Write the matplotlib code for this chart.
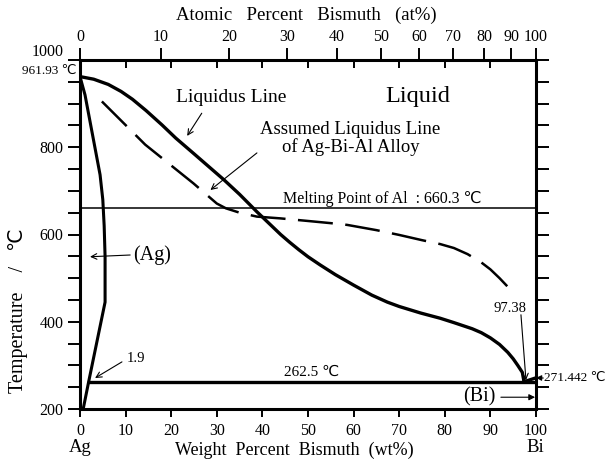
import numpy as np
import matplotlib
matplotlib.use("Agg")
import matplotlib.pyplot as plt

plt.rcParams['font.family'] = ['Liberation Serif', 'DejaVu Sans']

M_AG = 107.868
M_BI = 208.980

# liquidus line (wt% Bi, deg C)
liq_wt = [0, 3.0, 6.2, 9.0, 11.5, 14.5, 18.0, 21.0, 25.0, 31.5, 35.0, 38.8, 42.0, 44.0, 46.0, 48.0,
          50.0, 52.7, 56.0, 60.0, 64.0, 67.4, 70.0, 74.7, 79.0, 82.0, 86.0, 88.0, 90.0, 92.0, 93.8,
          95.0, 96.0, 97.0, 97.38]
liq_T = [961.93, 956, 944, 928, 910, 884, 851, 821, 785, 726, 692, 652, 620, 600, 582, 565,
         549, 530, 508, 484, 461, 445, 435, 420, 408, 398, 384, 375, 363, 348, 330,
         315, 300, 284, 262.5]

# assumed liquidus of the Ag-Bi-Al alloy
dash_wt = [4.8, 14.3, 24.9, 30.0, 32.0, 35.0, 38.8, 43.9, 50.0, 55.0, 58.6, 65.0, 70.0, 75.0,
           79.0, 82.0, 85.0, 88.0, 90.0, 92.0, 94.0, 95.2]
dash_T = [905, 806, 717, 671, 660, 650, 641, 637, 631, 626, 622, 610, 599, 587,
          578, 569, 555, 536, 520, 500, 478, 465]

# (Ag) solid solution boundary
sol_wt = [0, 1.1, 2.2, 3.3, 4.4, 5.0, 5.3, 5.5, 5.5, 1.9, 0.7]
sol_T = [961.93, 920, 859, 798, 737, 680, 620, 549, 445, 262.5, 200]

# (Bi) side
bi_wt = [97.38, 100]
bi_T = [262.5, 271.442]

eut_T = 262.5
eut_wt = [1.9, 100]
al_T = 660.3

wt_ticks = list(range(0, 101, 10))
at_ticks = list(range(0, 101, 10))
T_labels = [200, 400, 600, 800, 1000]


def wt2at(w):
    w = np.clip(np.asarray(w, dtype=float), 0, 100)
    a = w / M_BI
    b = (100 - w) / M_AG
    return 100 * a / np.where(a + b == 0, 1, a + b)


def at2wt(x):
    x = np.clip(np.asarray(x, dtype=float), 0, 100)
    a = x * M_BI
    b = (100 - x) * M_AG
    return 100 * a / np.where(a + b == 0, 1, a + b)


fig = plt.figure(figsize=(6.07, 4.59), dpi=100)
ax = fig.add_axes([80 / 607, 50 / 459, 456 / 607, 349 / 459])

ax.plot(liq_wt, liq_T, color='black', lw=2.4, solid_joinstyle='round')
ax.plot(dash_wt, dash_T, color='black', lw=1.8, dashes=(14, 5))
ax.plot(sol_wt, sol_T, color='black', lw=2.2, solid_joinstyle='miter')
ax.plot(bi_wt, bi_T, color='black', lw=2.4)
ax.plot(eut_wt, [eut_T, eut_T], color='black', lw=2.4)
ax.plot([0, 100], [al_T, al_T], color='black', lw=1.1)

ax.set_xlim(0, 100)
ax.set_ylim(200, 1000)
for s in ax.spines.values():
    s.set_linewidth(2.2)

ax.set_xticks(wt_ticks)
ax.set_yticks(T_labels)
ax.set_yticks(range(200, 1001, 50), minor=True)
ax.tick_params(axis='x', direction='out', length=6, width=1.4, labelsize=11.5, pad=4, top=False)
ax.tick_params(axis='y', which='both', direction='out', length=9, width=1.4, labelsize=11.5, pad=3,
               right=True)
ax.tick_params(axis='y', which='minor', labelleft=False)
# 1000 sits just above its tick so the melting point label fits beneath it
ax.get_yticklabels()[-1].set_va('bottom')

# inward weight-percent ticks on the top edge
top_in = ax.secondary_xaxis('top')
top_in.set_xticks(wt_ticks)
top_in.tick_params(direction='in', length=6, width=1.4, labeltop=False)
top_in.spines['top'].set_visible(False)

# atomic percent scale on top
top_at = ax.secondary_xaxis('top', functions=(wt2at, at2wt))
top_at.set_xticks(at_ticks)
top_at.tick_params(direction='out', length=9, width=1.4, labelsize=11.5, pad=2)
top_at.spines['top'].set_visible(False)

# axis titles
fig.text(306 / 607, 1 - 15 / 459, 'Atomic   Percent   Bismuth   (at%)', ha='center', va='center', fontsize=13.5)
fig.text(294 / 607, 1 - 450 / 459, 'Weight  Percent  Bismuth  (wt%)', ha='center', va='center', fontsize=13)
fig.text(18 / 607, 1 - 311 / 459, 'Temperature    /   \u2103', ha='center', va='center', rotation=90, fontsize=14.5)
fig.text(80 / 607, 1 - 448 / 459, 'Ag', ha='center', va='center', fontsize=13.5)
fig.text(535 / 607, 1 - 448 / 459, 'Bi', ha='center', va='center', fontsize=13.5)

# annotations
arrow = dict(arrowstyle='->', color='black', lw=0.8, shrinkA=0, shrinkB=0)
ax.text(-0.8, 975, '961.93 \u2103', ha='right', va='center', fontsize=9.5, clip_on=False)
ax.text(74, 917, 'Liquid', ha='center', va='center', fontsize=17.5)

ax.text(33.2, 915, 'Liquidus Line', ha='center', va='center', fontsize=14)
ax.annotate('', xy=(23.5, 826), xytext=(26.7, 878), arrowprops=arrow)

ax.text(59.3, 821, 'Assumed Liquidus Line\nof Ag-Bi-Al Alloy', ha='center', va='center',
        fontsize=13.5, linespacing=1.0)
ax.annotate('', xy=(28.6, 702), xytext=(38.8, 787), arrowprops=arrow)

ax.text(44.5, 681, 'Melting Point of Al  : 660.3 \u2103', ha='left', va='center', fontsize=11.5)

ax.text(11.6, 553, '(Ag)', ha='left', va='center', fontsize=14.5)
ax.annotate('', xy=(2.2, 549), xytext=(11.0, 553), arrowprops=arrow)

ax.text(10.3, 316, '1.9', ha='left', va='center', fontsize=10.5)
ax.annotate('', xy=(3.3, 271), xytext=(9.2, 308), arrowprops=arrow)

ax.text(50.8, 283, '262.5 \u2103', ha='center', va='center', fontsize=11)

ax.text(94.3, 431, '97.38', ha='center', va='center', fontsize=10.5)
ax.annotate('', xy=(97.8, 266), xytext=(96.7, 416), arrowprops=arrow)

ax.text(101.75, 271, '271.442 \u2103', ha='left', va='center', fontsize=9.5, clip_on=False)
ax.annotate('', xy=(100, 271.442), xytext=(101.6, 271), annotation_clip=False,
            arrowprops=dict(arrowstyle='-|>', color='black', lw=0.8, shrinkA=0, shrinkB=0,
                            mutation_scale=8))

ax.text(91.2, 227, '(Bi)', ha='right', va='center', fontsize=14.5)
ax.annotate('', xy=(99.8, 227), xytext=(92.3, 227),
            arrowprops=dict(arrowstyle='-|>', color='black', lw=0.8, shrinkA=0, shrinkB=0,
                            mutation_scale=9))

fig.savefig('out.png', dpi=100)
